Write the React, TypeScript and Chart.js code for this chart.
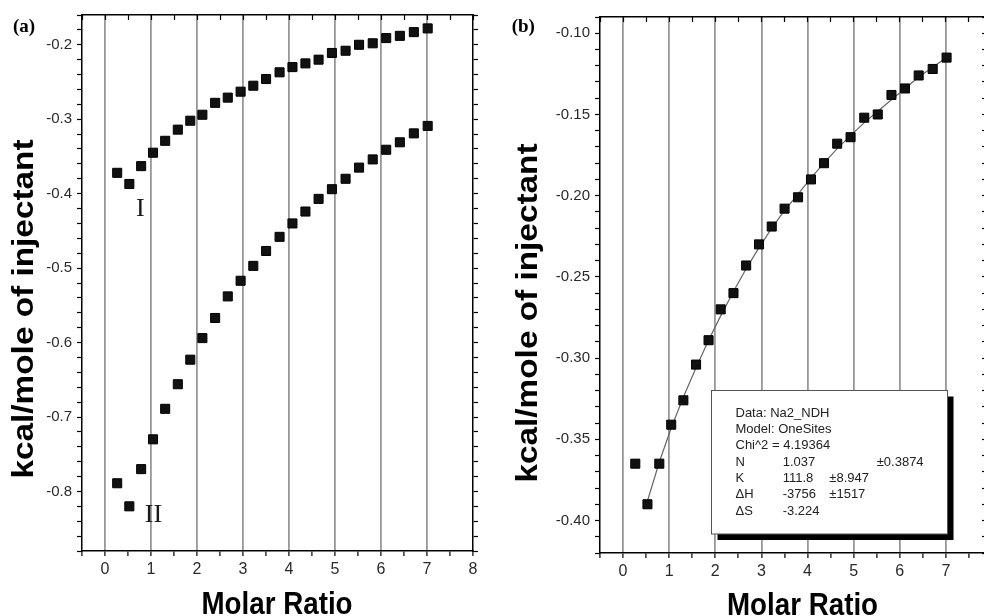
import React, { useEffect, useRef } from "react";
import { Chart, registerables } from "chart.js";

Chart.register(...registerables);

// ---------- data ----------
const molarRatio = [
  0.265, 0.529, 0.786, 1.044, 1.308, 1.583, 1.854, 2.117, 2.394, 2.669, 2.948, 3.224, 3.502,
  3.795, 4.075, 4.357, 4.643, 4.933, 5.23, 5.523, 5.82, 6.113, 6.41, 6.714, 7.015,
];
// panel (a), curve I
const heatI = [
  -0.372, -0.387, -0.363, -0.345, -0.329, -0.314, -0.302, -0.294, -0.278, -0.271, -0.263, -0.255,
  -0.246, -0.237, -0.23, -0.225, -0.22, -0.211, -0.208, -0.2, -0.198, -0.191, -0.188, -0.183, -0.178,
];
// panel (a), curve II
const heatII = [
  -0.789, -0.82, -0.77, -0.73, -0.689, -0.656, -0.623, -0.594, -0.567, -0.538, -0.517, -0.497,
  -0.477, -0.458, -0.44, -0.424, -0.407, -0.394, -0.38, -0.365, -0.354, -0.341, -0.331, -0.319, -0.309,
];
// panel (b), Na2_NDH data
const heatNa2 = [
  -0.365, -0.39, -0.365, -0.341, -0.326, -0.304, -0.289, -0.27, -0.26, -0.243, -0.23, -0.219,
  -0.208, -0.201, -0.19, -0.18, -0.168, -0.164, -0.152, -0.15, -0.138, -0.134, -0.126, -0.122, -0.115,
];
// panel (b), fitted curve (first injection not fitted)
const fitNa2: (number | null)[] = [
  null, -0.388, -0.364, -0.343, -0.324, -0.306, -0.289, -0.274, -0.259, -0.245, -0.232, -0.22,
  -0.209, -0.199, -0.189, -0.18, -0.171, -0.163, -0.155, -0.148, -0.141, -0.134, -0.127, -0.121, -0.115,
];
const xTickValues = [0, 1, 2, 3, 4, 5, 6, 7, 8];
const yAxisTitle = "kcal/mole of injectant";
const xAxisTitle = "Molar Ratio";
const fitTableHeader = ["Data: Na2_NDH", "Model: OneSites", "Chi^2 = 4.19364"];
const fitTableRows = [
  ["N", "1.037", "", "±0.3874"],
  ["K", "111.8", "±8.947", ""],
  ["ΔH", "-3756", "±1517", ""],
  ["ΔS", "-3.224", "", ""],
];

// ---------- styles ----------
const SANS = "'Liberation Sans', Arial, Helvetica, sans-serif";
const SERIF = "'Liberation Serif', 'Times New Roman', serif";
const GRID = "rgba(125,125,125,0.8)";
const TICK_TEXT = "#2a2a2a";
const CLEAR = "rgba(0,0,0,0)";

type PanelOpts = {
  yMin: number;
  yMax: number;
  yStep: number;
  yMajor: number;
  yDecimals: number;
  leftW: number;
  rightW: number;
  bottomH: number;
  rightTick: number;
};

function isMultiple(v: number, step: number) {
  const q = v / step;
  return Math.abs(q - Math.round(q)) < 1e-6;
}

function buildScales(p: PanelOpts) {
  const gridColor = (c: any) => {
    const v = c.tick ? c.tick.value : null;
    if (v == null) return CLEAR;
    const r = Math.round(v);
    return Math.abs(v - r) < 1e-6 && r >= 0 && r <= 7 ? GRID : CLEAR;
  };
  const border = { display: true, color: "#000", width: 1.5 };
  return {
    x: {
      type: "linear",
      position: "bottom",
      min: -0.5,
      max: 8,
      afterFit: (s: any) => {
        s.height = p.bottomH;
      },
      ticks: {
        stepSize: 0.5,
        autoSkip: false,
        maxRotation: 0,
        minRotation: 0,
        padding: 4,
        color: TICK_TEXT,
        font: { family: SANS, size: 16 },
        callback: (v: any) => {
          const n = Number(v);
          const r = Math.round(n);
          return Math.abs(n - r) < 1e-6 && xTickValues.includes(r) ? String(r) : "";
        },
      },
      grid: {
        color: gridColor,
        lineWidth: 1.8,
        drawTicks: true,
        tickLength: 5,
        tickColor: "#000",
        tickWidth: 1.2,
      },
      border,
    },
    x2: {
      type: "linear",
      position: "top",
      min: -0.5,
      max: 8,
      afterFit: (s: any) => {
        s.height = 1;
      },
      ticks: { stepSize: 0.5, display: false, autoSkip: false },
      grid: {
        drawOnChartArea: false,
        drawTicks: true,
        tickLength: -5,
        tickColor: "#000",
        tickWidth: 1.2,
      },
      border,
    },
    y: {
      type: "linear",
      position: "left",
      min: p.yMin,
      max: p.yMax,
      afterFit: (s: any) => {
        s.width = p.leftW;
      },
      ticks: {
        stepSize: p.yStep,
        autoSkip: false,
        padding: 5,
        color: TICK_TEXT,
        font: { family: SANS, size: 15 },
        callback: (v: any) => {
          const n = Number(v);
          return isMultiple(n, p.yMajor) ? n.toFixed(p.yDecimals) : "";
        },
      },
      grid: {
        drawOnChartArea: false,
        drawTicks: true,
        tickLength: 5,
        tickColor: "#000",
        tickWidth: 1.2,
      },
      border,
    },
    y2: {
      type: "linear",
      position: "right",
      min: p.yMin,
      max: p.yMax,
      afterFit: (s: any) => {
        s.width = p.rightW;
      },
      ticks: { stepSize: p.yStep, display: false, autoSkip: false },
      grid: {
        drawOnChartArea: false,
        drawTicks: true,
        tickLength: p.rightTick,
        tickColor: "#000",
        tickWidth: 1.2,
      },
      border,
    },
  };
}

function drawYTitle(ctx: CanvasRenderingContext2D, baselineX: number, centerY: number) {
  ctx.save();
  ctx.translate(baselineX, centerY);
  ctx.rotate(-Math.PI / 2);
  ctx.scale(1.15, 1);
  ctx.font = `bold 29px ${SANS}`;
  ctx.textAlign = "center";
  ctx.textBaseline = "alphabetic";
  ctx.fillStyle = "#000";
  ctx.fillText(yAxisTitle, 0, 0);
  ctx.restore();
}

function drawXTitle(ctx: CanvasRenderingContext2D, centerX: number, baselineY: number) {
  ctx.save();
  ctx.translate(centerX, baselineY);
  ctx.scale(0.895, 1);
  ctx.font = `bold 31px ${SANS}`;
  ctx.textAlign = "center";
  ctx.textBaseline = "alphabetic";
  ctx.fillStyle = "#000";
  ctx.fillText(xAxisTitle, 0, 0);
  ctx.restore();
}

function drawPanelLabel(ctx: CanvasRenderingContext2D, text: string, x: number, y: number) {
  ctx.save();
  ctx.font = `bold 19px ${SERIF}`;
  ctx.textAlign = "left";
  ctx.textBaseline = "alphabetic";
  ctx.fillStyle = "#000";
  ctx.fillText(text, x, y);
  ctx.restore();
}

const annotA = {
  id: "annotA",
  afterDraw(chart: any) {
    const ctx: CanvasRenderingContext2D = chart.ctx;
    const xs = chart.scales.x;
    const ys = chart.scales.y;
    drawPanelLabel(ctx, "(a)", 13, 31.5);
    ctx.save();
    ctx.font = `26px ${SERIF}`;
    ctx.textAlign = "center";
    ctx.textBaseline = "middle";
    ctx.fillStyle = "#1a1a1a";
    ctx.fillText("I", xs.getPixelForValue(0.767), ys.getPixelForValue(-0.4204));
    ctx.fillText("II", xs.getPixelForValue(1.054), ys.getPixelForValue(-0.8324));
    ctx.restore();
    drawYTitle(ctx, 33.3, 309);
    drawXTitle(ctx, 277, 614);
  },
};

const annotB = {
  id: "annotB",
  afterDraw(chart: any) {
    const ctx: CanvasRenderingContext2D = chart.ctx;
    drawPanelLabel(ctx, "(b)", 21.7, 31.5);
    drawYTitle(ctx, 46.5, 313);
    drawXTitle(ctx, 312.5, 615);
    // fit parameter box
    const bx = 221.5,
      by = 390.5,
      bw = 236,
      bh = 143.5;
    ctx.save();
    ctx.fillStyle = "#000";
    ctx.fillRect(bx + 6, by + 6, bw, bh);
    ctx.fillStyle = "#fff";
    ctx.fillRect(bx, by, bw, bh);
    ctx.strokeStyle = "#555";
    ctx.lineWidth = 1;
    ctx.strokeRect(bx, by, bw, bh);
    ctx.font = `13px ${SANS}`;
    ctx.fillStyle = "#222";
    ctx.textAlign = "left";
    ctx.textBaseline = "middle";
    const cols = [245.5, 292.7, 339.3, 386.7];
    let y = 413.3;
    const step = 16.3;
    fitTableHeader.forEach((t) => {
      ctx.fillText(t, cols[0], y);
      y += step;
    });
    fitTableRows.forEach((row) => {
      row.forEach((cell, i) => {
        if (cell) ctx.fillText(cell, cols[i], y);
      });
      y += step;
    });
    ctx.restore();
  },
};

const pointStyle = {
  pointStyle: "rect",
  pointRadius: 6.4,
  pointHoverRadius: 6.4,
  pointBackgroundColor: "#111",
  pointBorderColor: "#000",
  pointBorderWidth: 1,
  showLine: false,
};

export default function App() {
  const refA = useRef<HTMLCanvasElement | null>(null);
  const refB = useRef<HTMLCanvasElement | null>(null);

  useEffect(() => {
    Chart.defaults.font.family = SANS;
    const common: any = {
      responsive: false,
      animation: false,
      devicePixelRatio: window.devicePixelRatio || 1,
      plugins: { legend: { display: false }, tooltip: { enabled: false } },
      events: [],
    };

    const chartA = new Chart(refA.current as HTMLCanvasElement, {
      type: "scatter",
      data: {
        datasets: [
          {
            label: "I",
            data: molarRatio.map((x, i) => ({ x, y: heatI[i] })),
            ...pointStyle,
          } as any,
          {
            label: "II",
            data: molarRatio.map((x, i) => ({ x, y: heatII[i] })),
            ...pointStyle,
          } as any,
        ],
      },
      options: {
        ...common,
        layout: { padding: { left: 0, right: 5, top: 14, bottom: 0 } },
        scales: buildScales({
          yMin: -0.88,
          yMax: -0.16,
          yStep: 0.02,
          yMajor: 0.1,
          yDecimals: 1,
          leftW: 82,
          rightW: 12,
          bottomH: 65,
          rightTick: 5,
        }) as any,
      },
      plugins: [annotA],
    });

    const chartB = new Chart(refB.current as HTMLCanvasElement, {
      type: "scatter",
      data: {
        datasets: [
          {
            label: "Na2_NDH",
            data: molarRatio.map((x, i) => ({ x, y: heatNa2[i] })),
            ...pointStyle,
            order: 0,
          } as any,
          {
            label: "OneSites fit",
            data: molarRatio
              .map((x, i) => ({ x, y: fitNa2[i] }))
              .filter((p) => p.y !== null),
            showLine: true,
            borderColor: "#666",
            borderWidth: 1.2,
            pointRadius: 0,
            pointHoverRadius: 0,
            fill: false,
            tension: 0,
            order: 1,
          } as any,
        ],
      },
      options: {
        ...common,
        layout: { padding: { left: 0, right: 8, top: 16, bottom: 0 } },
        scales: buildScales({
          yMin: -0.42,
          yMax: -0.09,
          yStep: 0.01,
          yMajor: 0.05,
          yDecimals: 2,
          leftW: 110,
          rightW: 10,
          bottomH: 63,
          rightTick: -10,
        }) as any,
      },
      plugins: [annotB],
    });

    return () => {
      chartA.destroy();
      chartB.destroy();
    };
  }, []);

  return (
    <div
      style={{
        position: "fixed",
        left: 0,
        top: 0,
        width: 984,
        height: 616,
        overflow: "hidden",
        background: "#fff",
      }}
    >
      <canvas
        ref={refA}
        width={490}
        height={616}
        style={{ position: "absolute", left: 0, top: 0, width: 490, height: 616 }}
      />
      <canvas
        ref={refB}
        width={520}
        height={616}
        style={{ position: "absolute", left: 490, top: 0, width: 520, height: 616 }}
      />
    </div>
  );
}
